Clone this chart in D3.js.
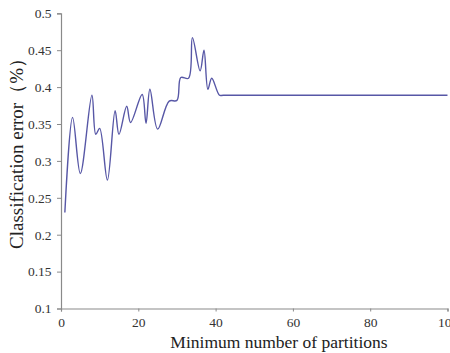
<!DOCTYPE html>
<html>
<head>
<meta charset="utf-8">
<script src="https://cdn.jsdelivr.net/npm/d3@7"></script>
<style>
  body { margin: 0; background: #fff; }
  svg { display: block; }
  .axis path, .axis line { stroke: #8a8a8a; }
</style>
</head>
<body>
<svg id="chart" width="450" height="353"></svg>
<script>
// partitions (x) and classification error (y)
const partitions = [1, 3, 5, 8, 9, 10, 12, 14, 15, 17, 18, 21, 22, 23, 25, 28, 30, 31, 33, 34, 36, 37, 38, 39, 41, 42, 100];
const errors = [0.230, 0.359, 0.283, 0.389, 0.336, 0.344, 0.274, 0.368, 0.336, 0.374, 0.352, 0.390, 0.351, 0.397, 0.343, 0.381, 0.382, 0.413, 0.412, 0.467, 0.422, 0.450, 0.397, 0.412, 0.389, 0.389, 0.389];
const xTicks = [0, 20, 40, 60, 80, 100];
const yTicks = [0.1, 0.15, 0.2, 0.25, 0.3, 0.35, 0.4, 0.45, 0.5];

const serif = "Liberation Serif";
const svg = d3.select("#chart");
const plot = { left: 61, right: 447.5, top: 13.3, bottom: 308.5 };

const x = d3.scaleLinear().domain([0, 100]).range([plot.left, plot.right]);
const y = d3.scaleLinear().domain([0.1, 0.5]).range([plot.bottom, plot.top]);

const data = partitions.map((p, i) => ({ p, e: errors[i] }));

const xAxisG = svg.append("g")
  .attr("class", "axis")
  .attr("transform", `translate(0,${plot.bottom})`)
  .call(d3.axisBottom(x).tickValues(xTicks).tickSizeOuter(0).tickSize(3).tickPadding(6).tickFormat(d3.format("d")));

const yAxisG = svg.append("g")
  .attr("class", "axis")
  .attr("transform", `translate(${plot.left},0)`)
  .call(d3.axisLeft(y).tickValues(yTicks).tickSizeOuter(0).tickSize(4).tickPadding(5.5).tickFormat((d) => String(+d.toFixed(2))));

[xAxisG, yAxisG].forEach((g) => {
  g.attr("font-family", null).attr("font-size", null);
  g.selectAll("text")
    .style("font-family", serif)
    .style("font-size", "13.5px")
    .attr("fill", "#333");
  g.select(".domain").attr("stroke-width", 1.2);
});

const line = d3.line()
  .x((d) => x(d.p))
  .y((d) => y(d.e))
  .curve(d3.curveCatmullRom.alpha(0.5));

svg.append("path")
  .datum(data)
  .attr("fill", "none")
  .attr("stroke", "#5757a6")
  .attr("stroke-width", 1.4)
  .attr("d", line);

svg.append("text")
  .attr("x", 279)
  .attr("y", 348)
  .attr("text-anchor", "middle")
  .style("font-family", serif)
  .style("font-size", "17.5px")
  .attr("fill", "#222")
  .text("Minimum number of partitions");

svg.append("text")
  .attr("transform", "translate(23,149) rotate(-90)")
  .attr("text-anchor", "middle")
  .style("font-family", serif)
  .style("font-size", "19px")
  .attr("fill", "#222")
  .text("Classification error（%）");
</script>
</body>
</html>
